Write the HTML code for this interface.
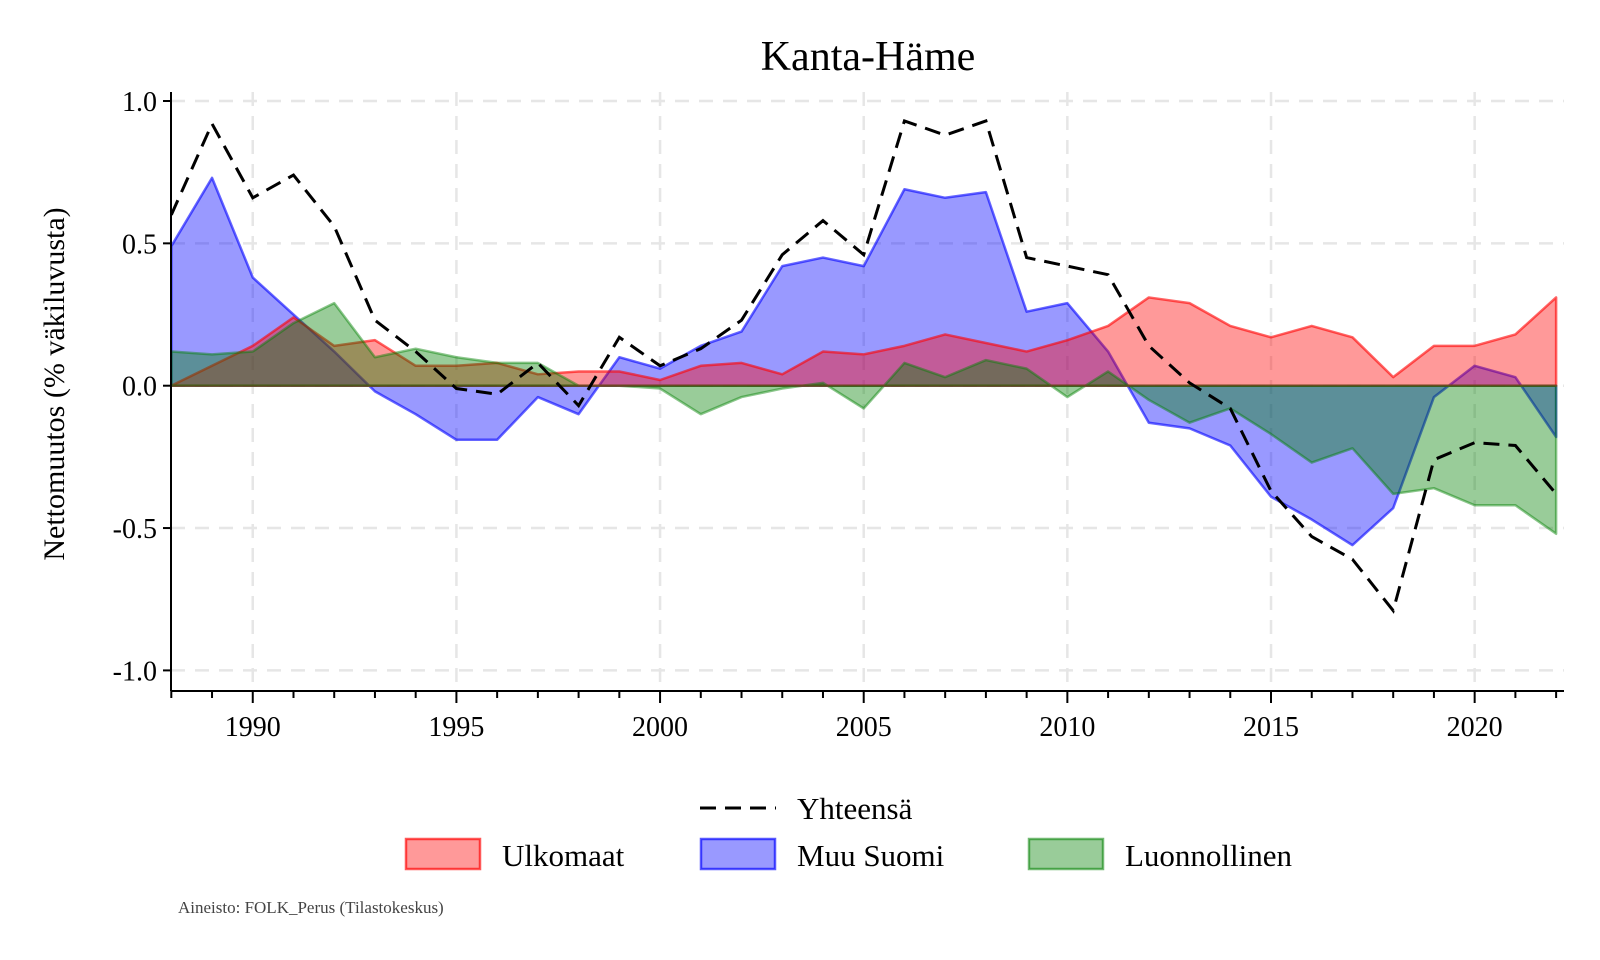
<!DOCTYPE html>
<html><head><meta charset="utf-8"><style>
body{margin:0;background:#fff;}
svg{display:block;font-family:"Liberation Serif",serif;}
</style></head><body>
<svg id="chart" width="1600" height="960">
<text x="868" y="70" font-size="42" text-anchor="middle">Kanta-Häme</text>
<g id="grid"></g><g id="areas"></g><g id="axes"></g>
<text transform="translate(64,384) rotate(-90)" font-size="30" text-anchor="middle">Nettomuutos (% väkiluvusta)</text>
<g>
<line x1="700" y1="808" x2="776" y2="808" stroke="#000" stroke-width="3" stroke-dasharray="16,9"/>
<text x="797" y="819" font-size="31">Yhteensä</text>
<rect x="406" y="839" width="74" height="30" fill="rgba(255,0,0,0.4)" stroke="rgba(255,0,0,0.65)" stroke-width="2.5"/>
<text x="502" y="866" font-size="31">Ulkomaat</text>
<rect x="701" y="839" width="74" height="30" fill="rgba(0,0,255,0.4)" stroke="rgba(0,0,255,0.65)" stroke-width="2.5"/>
<text x="797" y="866" font-size="31">Muu Suomi</text>
<rect x="1029" y="839" width="74" height="30" fill="rgba(0,128,0,0.4)" stroke="rgba(0,128,0,0.55)" stroke-width="2.5"/>
<text x="1125" y="866" font-size="31">Luonnollinen</text>
</g>
<text x="178" y="913" font-size="17" fill="#444">Aineisto: FOLK_Perus (Tilastokeskus)</text>
</svg>
<script>
const years=[];for(let y=1988;y<=2022;y++)years.push(y);
const muuSuomi=[0.49,0.73,0.38,0.25,0.12,-0.02,-0.10,-0.19,-0.19,-0.04,-0.10,0.10,0.06,0.14,0.19,0.42,0.45,0.42,0.69,0.66,0.68,0.26,0.29,0.12,-0.13,-0.15,-0.21,-0.39,-0.47,-0.56,-0.43,-0.04,0.07,0.03,-0.18];
const ulkomaat=[0.0,0.07,0.14,0.24,0.14,0.16,0.07,0.07,0.08,0.04,0.05,0.05,0.02,0.07,0.08,0.04,0.12,0.11,0.14,0.18,0.15,0.12,0.16,0.21,0.31,0.29,0.21,0.17,0.21,0.17,0.03,0.14,0.14,0.18,0.31];
const luonnollinen=[0.12,0.11,0.12,0.22,0.29,0.10,0.13,0.10,0.08,0.08,0.0,0.0,-0.01,-0.10,-0.04,-0.01,0.01,-0.08,0.08,0.03,0.09,0.06,-0.04,0.05,-0.05,-0.13,-0.08,-0.17,-0.27,-0.22,-0.38,-0.36,-0.42,-0.42,-0.52];
const yhteensa=[0.60,0.92,0.66,0.74,0.56,0.23,0.12,-0.01,-0.03,0.08,-0.07,0.17,0.07,0.13,0.23,0.46,0.58,0.46,0.93,0.88,0.93,0.45,0.42,0.39,0.14,0.01,-0.08,-0.37,-0.53,-0.61,-0.79,-0.26,-0.20,-0.21,-0.38];
const yTicks=[1.0,0.5,0.0,-0.5,-1.0];
const yTickLabels=["1.0","0.5","0.0","-0.5","-1.0"];
const xTicks=[1990,1995,2000,2005,2010,2015,2020];

const NS="http://www.w3.org/2000/svg";
const X0=171.3,PX=40.73,Y0=385.7,PY=284.7,TOP=92,BOT=691,LEFT=171,RIGHT=1564;
const sx=y=>X0+(y-1988)*PX, sy=v=>Y0-v*PY;
function mk(tag,attrs,parent){const e=document.createElementNS(NS,tag);for(const k in attrs)e.setAttribute(k,attrs[k]);parent.appendChild(e);return e;}
const grid=document.getElementById('grid'),areas=document.getElementById('areas'),axes=document.getElementById('axes');
yTicks.forEach((t,i)=>{
 const g=mk('line',{x1:LEFT,x2:RIGHT,y1:sy(t),y2:sy(t),stroke:'#e6e6e6','stroke-width':2.5,'stroke-dasharray':'14,10'},grid);
 
 
 const tk=mk('line',{x1:LEFT-8,x2:LEFT,y1:sy(t),y2:sy(t),stroke:'#000','stroke-width':2},axes);
 
 
 const tx=mk('text',{x:LEFT-14,y:sy(t)+10,'font-size':28,'text-anchor':'end'},axes);
 tx.textContent=yTickLabels[i];
 
 
});
xTicks.forEach(t=>{
 const g=mk('line',{x1:sx(t),x2:sx(t),y1:TOP,y2:BOT,stroke:'#e6e6e6','stroke-width':2.5,'stroke-dasharray':'14,10'},grid);
 
 
 const tx=mk('text',{x:sx(t),y:736,'font-size':28,'text-anchor':'middle'},axes);
 tx.textContent=t;
 
 
});
years.forEach(y=>{
 const len=xTicks.includes(y)?12:7;
 const tk=mk('line',{x1:sx(y),x2:sx(y),y1:BOT,y2:BOT+len,stroke:'#000','stroke-width':2},axes);
 
 
});
const ax1=mk('line',{x1:LEFT,x2:LEFT,y1:TOP,y2:BOT,stroke:'#000','stroke-width':2},axes);


const ax2=mk('line',{x1:LEFT,x2:RIGHT,y1:BOT,y2:BOT,stroke:'#000','stroke-width':2},axes);



function area(vals,fill,stroke,name){
 let d='M'+sx(years[0])+','+sy(0);
 vals.forEach((v,i)=>d+=' L'+sx(years[i])+','+sy(v));
 d+=' L'+sx(years[years.length-1])+','+sy(0)+' Z';
 const p=mk('path',{d:d,fill:fill,stroke:stroke,'stroke-width':2.5,'stroke-linejoin':'round'},areas);
 
 
}
area(muuSuomi,'rgba(0,0,255,0.4)','rgba(0,0,255,0.6)','area-muu-suomi');
area(ulkomaat,'rgba(255,0,0,0.4)','rgba(255,0,0,0.6)','area-ulkomaat');
area(luonnollinen,'rgba(0,128,0,0.4)','rgba(0,128,0,0.45)','area-luonnollinen');
const pts=yhteensa.map((v,i)=>sx(years[i])+','+sy(v)).join(' ');
const pl=mk('polyline',{points:pts,fill:'none',stroke:'#000','stroke-width':3,'stroke-dasharray':'16,9'},areas);


</script>
</body></html>
